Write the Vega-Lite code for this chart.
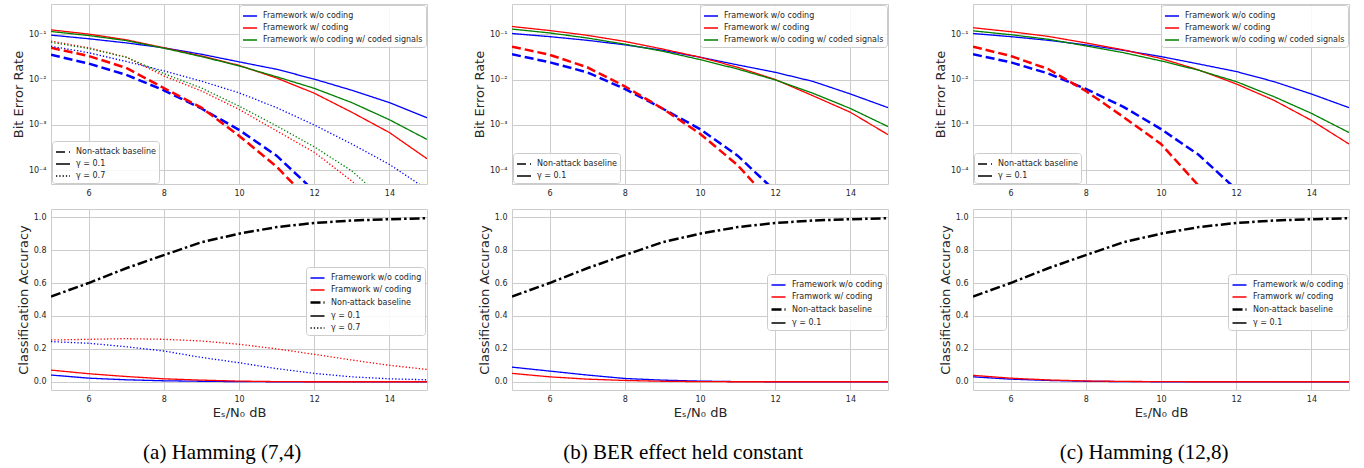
{
"$schema": "https://vega.github.io/schema/vega-lite/v6.json",
"padding": {"left": 11, "top": 3, "right": 0, "bottom": 0},
"datasets": {
"berA": [
{"snr":5,"ber":0.095,"method":"Framework w/o coding","style":"γ = 0.1"},{"snr":6,"ber":0.079,"method":"Framework w/o coding","style":"γ = 0.1"},{"snr":7,"ber":0.064,"method":"Framework w/o coding","style":"γ = 0.1"},{"snr":8,"ber":0.05,"method":"Framework w/o coding","style":"γ = 0.1"},{"snr":9,"ber":0.036,"method":"Framework w/o coding","style":"γ = 0.1"},{"snr":10,"ber":0.0245,"method":"Framework w/o coding","style":"γ = 0.1"},{"snr":11,"ber":0.0168,"method":"Framework w/o coding","style":"γ = 0.1"},{"snr":12,"ber":0.0102,"method":"Framework w/o coding","style":"γ = 0.1"},{"snr":13,"ber":0.0058,"method":"Framework w/o coding","style":"γ = 0.1"},{"snr":14,"ber":0.0031,"method":"Framework w/o coding","style":"γ = 0.1"},{"snr":15,"ber":0.00144,"method":"Framework w/o coding","style":"γ = 0.1"},
{"snr":5,"ber":0.124,"method":"Framework w/ coding","style":"γ = 0.1"},{"snr":6,"ber":0.1,"method":"Framework w/ coding","style":"γ = 0.1"},{"snr":7,"ber":0.075,"method":"Framework w/ coding","style":"γ = 0.1"},{"snr":8,"ber":0.05,"method":"Framework w/ coding","style":"γ = 0.1"},{"snr":9,"ber":0.033,"method":"Framework w/ coding","style":"γ = 0.1"},{"snr":10,"ber":0.0205,"method":"Framework w/ coding","style":"γ = 0.1"},{"snr":11,"ber":0.0108,"method":"Framework w/ coding","style":"γ = 0.1"},{"snr":12,"ber":0.005,"method":"Framework w/ coding","style":"γ = 0.1"},{"snr":13,"ber":0.0019,"method":"Framework w/ coding","style":"γ = 0.1"},{"snr":14,"ber":0.00068,"method":"Framework w/ coding","style":"γ = 0.1"},{"snr":15,"ber":0.00018,"method":"Framework w/ coding","style":"γ = 0.1"},
{"snr":5,"ber":0.114,"method":"Framework w/o coding w/ coded signals","style":"γ = 0.1"},{"snr":6,"ber":0.093,"method":"Framework w/o coding w/ coded signals","style":"γ = 0.1"},{"snr":7,"ber":0.072,"method":"Framework w/o coding w/ coded signals","style":"γ = 0.1"},{"snr":8,"ber":0.049,"method":"Framework w/o coding w/ coded signals","style":"γ = 0.1"},{"snr":9,"ber":0.032,"method":"Framework w/o coding w/ coded signals","style":"γ = 0.1"},{"snr":10,"ber":0.02,"method":"Framework w/o coding w/ coded signals","style":"γ = 0.1"},{"snr":11,"ber":0.0115,"method":"Framework w/o coding w/ coded signals","style":"γ = 0.1"},{"snr":12,"ber":0.0064,"method":"Framework w/o coding w/ coded signals","style":"γ = 0.1"},{"snr":13,"ber":0.0031,"method":"Framework w/o coding w/ coded signals","style":"γ = 0.1"},{"snr":14,"ber":0.0013,"method":"Framework w/o coding w/ coded signals","style":"γ = 0.1"},{"snr":15,"ber":0.00048,"method":"Framework w/o coding w/ coded signals","style":"γ = 0.1"},
{"snr":5,"ber":0.054,"method":"Framework w/o coding","style":"γ = 0.7"},{"snr":6,"ber":0.039,"method":"Framework w/o coding","style":"γ = 0.7"},{"snr":7,"ber":0.025,"method":"Framework w/o coding","style":"γ = 0.7"},{"snr":8,"ber":0.0155,"method":"Framework w/o coding","style":"γ = 0.7"},{"snr":9,"ber":0.0092,"method":"Framework w/o coding","style":"γ = 0.7"},{"snr":10,"ber":0.0051,"method":"Framework w/o coding","style":"γ = 0.7"},{"snr":11,"ber":0.0024,"method":"Framework w/o coding","style":"γ = 0.7"},{"snr":12,"ber":0.001,"method":"Framework w/o coding","style":"γ = 0.7"},{"snr":13,"ber":0.00038,"method":"Framework w/o coding","style":"γ = 0.7"},{"snr":14,"ber":0.000135,"method":"Framework w/o coding","style":"γ = 0.7"},{"snr":15,"ber":0.000038,"method":"Framework w/o coding","style":"γ = 0.7"},
{"snr":5,"ber":0.07,"method":"Framework w/ coding","style":"γ = 0.7"},{"snr":6,"ber":0.05,"method":"Framework w/ coding","style":"γ = 0.7"},{"snr":7,"ber":0.031,"method":"Framework w/ coding","style":"γ = 0.7"},{"snr":8,"ber":0.012,"method":"Framework w/ coding","style":"γ = 0.7"},{"snr":9,"ber":0.0056,"method":"Framework w/ coding","style":"γ = 0.7"},{"snr":10,"ber":0.0022,"method":"Framework w/ coding","style":"γ = 0.7"},{"snr":11,"ber":0.00074,"method":"Framework w/ coding","style":"γ = 0.7"},{"snr":12,"ber":0.00025,"method":"Framework w/ coding","style":"γ = 0.7"},{"snr":13,"ber":0.000058,"method":"Framework w/ coding","style":"γ = 0.7"},{"snr":14,"ber":0.000012,"method":"Framework w/ coding","style":"γ = 0.7"},
{"snr":5,"ber":0.066,"method":"Framework w/o coding w/ coded signals","style":"γ = 0.7"},{"snr":6,"ber":0.048,"method":"Framework w/o coding w/ coded signals","style":"γ = 0.7"},{"snr":7,"ber":0.031,"method":"Framework w/o coding w/ coded signals","style":"γ = 0.7"},{"snr":8,"ber":0.0135,"method":"Framework w/o coding w/ coded signals","style":"γ = 0.7"},{"snr":9,"ber":0.0065,"method":"Framework w/o coding w/ coded signals","style":"γ = 0.7"},{"snr":10,"ber":0.0026,"method":"Framework w/o coding w/ coded signals","style":"γ = 0.7"},{"snr":11,"ber":0.00095,"method":"Framework w/o coding w/ coded signals","style":"γ = 0.7"},{"snr":12,"ber":0.00033,"method":"Framework w/o coding w/ coded signals","style":"γ = 0.7"},{"snr":13,"ber":0.000097,"method":"Framework w/o coding w/ coded signals","style":"γ = 0.7"},{"snr":14,"ber":0.000018,"method":"Framework w/o coding w/ coded signals","style":"γ = 0.7"},
{"snr":5,"ber":0.035,"method":"Framework w/o coding","style":"Non-attack baseline"},{"snr":6,"ber":0.0225,"method":"Framework w/o coding","style":"Non-attack baseline"},{"snr":7,"ber":0.0127,"method":"Framework w/o coding","style":"Non-attack baseline"},{"snr":8,"ber":0.0058,"method":"Framework w/o coding","style":"Non-attack baseline"},{"snr":9,"ber":0.0023,"method":"Framework w/o coding","style":"Non-attack baseline"},{"snr":10,"ber":0.00078,"method":"Framework w/o coding","style":"Non-attack baseline"},{"snr":11,"ber":0.00021,"method":"Framework w/o coding","style":"Non-attack baseline"},{"snr":12,"ber":0.000035,"method":"Framework w/o coding","style":"Non-attack baseline"},
{"snr":5,"ber":0.05,"method":"Framework w/ coding","style":"Non-attack baseline"},{"snr":6,"ber":0.033,"method":"Framework w/ coding","style":"Non-attack baseline"},{"snr":7,"ber":0.018,"method":"Framework w/ coding","style":"Non-attack baseline"},{"snr":8,"ber":0.0065,"method":"Framework w/ coding","style":"Non-attack baseline"},{"snr":9,"ber":0.0024,"method":"Framework w/ coding","style":"Non-attack baseline"},{"snr":10,"ber":0.00058,"method":"Framework w/ coding","style":"Non-attack baseline"},{"snr":11,"ber":0.00012,"method":"Framework w/ coding","style":"Non-attack baseline"},{"snr":12,"ber":0.000017,"method":"Framework w/ coding","style":"Non-attack baseline"}
],
"berB": [
{"snr":5,"ber":0.103,"method":"Framework w/o coding","style":"γ = 0.1"},{"snr":6,"ber":0.088,"method":"Framework w/o coding","style":"γ = 0.1"},{"snr":7,"ber":0.073,"method":"Framework w/o coding","style":"γ = 0.1"},{"snr":8,"ber":0.058,"method":"Framework w/o coding","style":"γ = 0.1"},{"snr":9,"ber":0.044,"method":"Framework w/o coding","style":"γ = 0.1"},{"snr":10,"ber":0.031,"method":"Framework w/o coding","style":"γ = 0.1"},{"snr":11,"ber":0.021,"method":"Framework w/o coding","style":"γ = 0.1"},{"snr":12,"ber":0.0144,"method":"Framework w/o coding","style":"γ = 0.1"},{"snr":13,"ber":0.0091,"method":"Framework w/o coding","style":"γ = 0.1"},{"snr":14,"ber":0.0048,"method":"Framework w/o coding","style":"γ = 0.1"},{"snr":15,"ber":0.0024,"method":"Framework w/o coding","style":"γ = 0.1"},
{"snr":5,"ber":0.147,"method":"Framework w/ coding","style":"γ = 0.1"},{"snr":6,"ber":0.12,"method":"Framework w/ coding","style":"γ = 0.1"},{"snr":7,"ber":0.094,"method":"Framework w/ coding","style":"γ = 0.1"},{"snr":8,"ber":0.069,"method":"Framework w/ coding","style":"γ = 0.1"},{"snr":9,"ber":0.047,"method":"Framework w/ coding","style":"γ = 0.1"},{"snr":10,"ber":0.031,"method":"Framework w/ coding","style":"γ = 0.1"},{"snr":11,"ber":0.0186,"method":"Framework w/ coding","style":"γ = 0.1"},{"snr":12,"ber":0.01,"method":"Framework w/ coding","style":"γ = 0.1"},{"snr":13,"ber":0.0044,"method":"Framework w/ coding","style":"γ = 0.1"},{"snr":14,"ber":0.0019,"method":"Framework w/ coding","style":"γ = 0.1"},{"snr":15,"ber":0.00061,"method":"Framework w/ coding","style":"γ = 0.1"},
{"snr":5,"ber":0.129,"method":"Framework w/o coding w/ coded signals","style":"γ = 0.1"},{"snr":6,"ber":0.106,"method":"Framework w/o coding w/ coded signals","style":"γ = 0.1"},{"snr":7,"ber":0.082,"method":"Framework w/o coding w/ coded signals","style":"γ = 0.1"},{"snr":8,"ber":0.06,"method":"Framework w/o coding w/ coded signals","style":"γ = 0.1"},{"snr":9,"ber":0.042,"method":"Framework w/o coding w/ coded signals","style":"γ = 0.1"},{"snr":10,"ber":0.0275,"method":"Framework w/o coding w/ coded signals","style":"γ = 0.1"},{"snr":11,"ber":0.017,"method":"Framework w/o coding w/ coded signals","style":"γ = 0.1"},{"snr":12,"ber":0.0098,"method":"Framework w/o coding w/ coded signals","style":"γ = 0.1"},{"snr":13,"ber":0.005,"method":"Framework w/o coding w/ coded signals","style":"γ = 0.1"},{"snr":14,"ber":0.0023,"method":"Framework w/o coding w/ coded signals","style":"γ = 0.1"},{"snr":15,"ber":0.00092,"method":"Framework w/o coding w/ coded signals","style":"γ = 0.1"},
{"snr":5,"ber":0.036,"method":"Framework w/o coding","style":"Non-attack baseline"},{"snr":6,"ber":0.024,"method":"Framework w/o coding","style":"Non-attack baseline"},{"snr":7,"ber":0.0144,"method":"Framework w/o coding","style":"Non-attack baseline"},{"snr":8,"ber":0.0062,"method":"Framework w/o coding","style":"Non-attack baseline"},{"snr":9,"ber":0.0023,"method":"Framework w/o coding","style":"Non-attack baseline"},{"snr":10,"ber":0.00081,"method":"Framework w/o coding","style":"Non-attack baseline"},{"snr":11,"ber":0.00021,"method":"Framework w/o coding","style":"Non-attack baseline"},{"snr":12,"ber":0.000035,"method":"Framework w/o coding","style":"Non-attack baseline"},
{"snr":5,"ber":0.053,"method":"Framework w/ coding","style":"Non-attack baseline"},{"snr":6,"ber":0.035,"method":"Framework w/ coding","style":"Non-attack baseline"},{"snr":7,"ber":0.0186,"method":"Framework w/ coding","style":"Non-attack baseline"},{"snr":8,"ber":0.0071,"method":"Framework w/ coding","style":"Non-attack baseline"},{"snr":9,"ber":0.0023,"method":"Framework w/ coding","style":"Non-attack baseline"},{"snr":10,"ber":0.00064,"method":"Framework w/ coding","style":"Non-attack baseline"},{"snr":11,"ber":0.00013,"method":"Framework w/ coding","style":"Non-attack baseline"},{"snr":12,"ber":0.000016,"method":"Framework w/ coding","style":"Non-attack baseline"}
],
"berC": [
{"snr":5,"ber":0.103,"method":"Framework w/o coding","style":"γ = 0.1"},{"snr":6,"ber":0.088,"method":"Framework w/o coding","style":"γ = 0.1"},{"snr":7,"ber":0.073,"method":"Framework w/o coding","style":"γ = 0.1"},{"snr":8,"ber":0.058,"method":"Framework w/o coding","style":"γ = 0.1"},{"snr":9,"ber":0.044,"method":"Framework w/o coding","style":"γ = 0.1"},{"snr":10,"ber":0.032,"method":"Framework w/o coding","style":"γ = 0.1"},{"snr":11,"ber":0.022,"method":"Framework w/o coding","style":"γ = 0.1"},{"snr":12,"ber":0.015,"method":"Framework w/o coding","style":"γ = 0.1"},{"snr":13,"ber":0.009,"method":"Framework w/o coding","style":"γ = 0.1"},{"snr":14,"ber":0.0048,"method":"Framework w/o coding","style":"γ = 0.1"},{"snr":15,"ber":0.0024,"method":"Framework w/o coding","style":"γ = 0.1"},
{"snr":5,"ber":0.138,"method":"Framework w/ coding","style":"γ = 0.1"},{"snr":6,"ber":0.113,"method":"Framework w/ coding","style":"γ = 0.1"},{"snr":7,"ber":0.089,"method":"Framework w/ coding","style":"γ = 0.1"},{"snr":8,"ber":0.064,"method":"Framework w/ coding","style":"γ = 0.1"},{"snr":9,"ber":0.045,"method":"Framework w/ coding","style":"γ = 0.1"},{"snr":10,"ber":0.029,"method":"Framework w/ coding","style":"γ = 0.1"},{"snr":11,"ber":0.0163,"method":"Framework w/ coding","style":"γ = 0.1"},{"snr":12,"ber":0.008,"method":"Framework w/ coding","style":"γ = 0.1"},{"snr":13,"ber":0.0035,"method":"Framework w/ coding","style":"γ = 0.1"},{"snr":14,"ber":0.00126,"method":"Framework w/ coding","style":"γ = 0.1"},{"snr":15,"ber":0.00038,"method":"Framework w/ coding","style":"γ = 0.1"},
{"snr":5,"ber":0.118,"method":"Framework w/o coding w/ coded signals","style":"γ = 0.1"},{"snr":6,"ber":0.097,"method":"Framework w/o coding w/ coded signals","style":"γ = 0.1"},{"snr":7,"ber":0.077,"method":"Framework w/o coding w/ coded signals","style":"γ = 0.1"},{"snr":8,"ber":0.055,"method":"Framework w/o coding w/ coded signals","style":"γ = 0.1"},{"snr":9,"ber":0.039,"method":"Framework w/o coding w/ coded signals","style":"γ = 0.1"},{"snr":10,"ber":0.0257,"method":"Framework w/o coding w/ coded signals","style":"γ = 0.1"},{"snr":11,"ber":0.016,"method":"Framework w/o coding w/ coded signals","style":"γ = 0.1"},{"snr":12,"ber":0.009,"method":"Framework w/o coding w/ coded signals","style":"γ = 0.1"},{"snr":13,"ber":0.0042,"method":"Framework w/o coding w/ coded signals","style":"γ = 0.1"},{"snr":14,"ber":0.0018,"method":"Framework w/o coding w/ coded signals","style":"γ = 0.1"},{"snr":15,"ber":0.00068,"method":"Framework w/o coding w/ coded signals","style":"γ = 0.1"},
{"snr":5,"ber":0.036,"method":"Framework w/o coding","style":"Non-attack baseline"},{"snr":6,"ber":0.024,"method":"Framework w/o coding","style":"Non-attack baseline"},{"snr":7,"ber":0.0136,"method":"Framework w/o coding","style":"Non-attack baseline"},{"snr":8,"ber":0.0062,"method":"Framework w/o coding","style":"Non-attack baseline"},{"snr":9,"ber":0.0025,"method":"Framework w/o coding","style":"Non-attack baseline"},{"snr":10,"ber":0.00081,"method":"Framework w/o coding","style":"Non-attack baseline"},{"snr":11,"ber":0.00022,"method":"Framework w/o coding","style":"Non-attack baseline"},{"snr":12,"ber":0.000038,"method":"Framework w/o coding","style":"Non-attack baseline"},
{"snr":5,"ber":0.053,"method":"Framework w/ coding","style":"Non-attack baseline"},{"snr":6,"ber":0.033,"method":"Framework w/ coding","style":"Non-attack baseline"},{"snr":7,"ber":0.017,"method":"Framework w/ coding","style":"Non-attack baseline"},{"snr":8,"ber":0.0056,"method":"Framework w/ coding","style":"Non-attack baseline"},{"snr":9,"ber":0.0015,"method":"Framework w/ coding","style":"Non-attack baseline"},{"snr":10,"ber":0.00038,"method":"Framework w/ coding","style":"Non-attack baseline"},{"snr":11,"ber":0.000046,"method":"Framework w/ coding","style":"Non-attack baseline"}
],
"accA": [
{"snr":5,"acc":0.518,"series":"Non-attack baseline"},{"snr":6,"acc":0.6,"series":"Non-attack baseline"},{"snr":7,"acc":0.69,"series":"Non-attack baseline"},{"snr":8,"acc":0.77,"series":"Non-attack baseline"},{"snr":9,"acc":0.848,"series":"Non-attack baseline"},{"snr":10,"acc":0.9,"series":"Non-attack baseline"},{"snr":11,"acc":0.94,"series":"Non-attack baseline"},{"snr":12,"acc":0.965,"series":"Non-attack baseline"},{"snr":13,"acc":0.98,"series":"Non-attack baseline"},{"snr":14,"acc":0.988,"series":"Non-attack baseline"},{"snr":15,"acc":0.994,"series":"Non-attack baseline"},
{"snr":5,"acc":0.244,"series":"Framework w/o coding, γ = 0.7"},{"snr":6,"acc":0.234,"series":"Framework w/o coding, γ = 0.7"},{"snr":7,"acc":0.213,"series":"Framework w/o coding, γ = 0.7"},{"snr":8,"acc":0.187,"series":"Framework w/o coding, γ = 0.7"},{"snr":9,"acc":0.148,"series":"Framework w/o coding, γ = 0.7"},{"snr":10,"acc":0.116,"series":"Framework w/o coding, γ = 0.7"},{"snr":11,"acc":0.08,"series":"Framework w/o coding, γ = 0.7"},{"snr":12,"acc":0.051,"series":"Framework w/o coding, γ = 0.7"},{"snr":13,"acc":0.03,"series":"Framework w/o coding, γ = 0.7"},{"snr":14,"acc":0.018,"series":"Framework w/o coding, γ = 0.7"},{"snr":15,"acc":0.012,"series":"Framework w/o coding, γ = 0.7"},
{"snr":5,"acc":0.254,"series":"Framwork w/ coding, γ = 0.7"},{"snr":6,"acc":0.258,"series":"Framwork w/ coding, γ = 0.7"},{"snr":7,"acc":0.262,"series":"Framwork w/ coding, γ = 0.7"},{"snr":8,"acc":0.258,"series":"Framwork w/ coding, γ = 0.7"},{"snr":9,"acc":0.248,"series":"Framwork w/ coding, γ = 0.7"},{"snr":10,"acc":0.228,"series":"Framwork w/ coding, γ = 0.7"},{"snr":11,"acc":0.2,"series":"Framwork w/ coding, γ = 0.7"},{"snr":12,"acc":0.167,"series":"Framwork w/ coding, γ = 0.7"},{"snr":13,"acc":0.132,"series":"Framwork w/ coding, γ = 0.7"},{"snr":14,"acc":0.1,"series":"Framwork w/ coding, γ = 0.7"},{"snr":15,"acc":0.075,"series":"Framwork w/ coding, γ = 0.7"},
{"snr":5,"acc":0.041,"series":"Framework w/o coding"},{"snr":6,"acc":0.022,"series":"Framework w/o coding"},{"snr":7,"acc":0.012,"series":"Framework w/o coding"},{"snr":8,"acc":0.006,"series":"Framework w/o coding"},{"snr":9,"acc":0.003,"series":"Framework w/o coding"},{"snr":10,"acc":0.001,"series":"Framework w/o coding"},{"snr":11,"acc":0,"series":"Framework w/o coding"},{"snr":12,"acc":0,"series":"Framework w/o coding"},{"snr":13,"acc":0,"series":"Framework w/o coding"},{"snr":14,"acc":0,"series":"Framework w/o coding"},{"snr":15,"acc":0,"series":"Framework w/o coding"},
{"snr":5,"acc":0.071,"series":"Framwork w/ coding"},{"snr":6,"acc":0.049,"series":"Framwork w/ coding"},{"snr":7,"acc":0.032,"series":"Framwork w/ coding"},{"snr":8,"acc":0.018,"series":"Framwork w/ coding"},{"snr":9,"acc":0.01,"series":"Framwork w/ coding"},{"snr":10,"acc":0.004,"series":"Framwork w/ coding"},{"snr":11,"acc":0.001,"series":"Framwork w/ coding"},{"snr":12,"acc":0,"series":"Framwork w/ coding"},{"snr":13,"acc":0,"series":"Framwork w/ coding"},{"snr":14,"acc":0,"series":"Framwork w/ coding"},{"snr":15,"acc":0,"series":"Framwork w/ coding"}
],
"accB": [
{"snr":5,"acc":0.518,"series":"Non-attack baseline"},{"snr":6,"acc":0.6,"series":"Non-attack baseline"},{"snr":7,"acc":0.69,"series":"Non-attack baseline"},{"snr":8,"acc":0.77,"series":"Non-attack baseline"},{"snr":9,"acc":0.848,"series":"Non-attack baseline"},{"snr":10,"acc":0.9,"series":"Non-attack baseline"},{"snr":11,"acc":0.94,"series":"Non-attack baseline"},{"snr":12,"acc":0.965,"series":"Non-attack baseline"},{"snr":13,"acc":0.98,"series":"Non-attack baseline"},{"snr":14,"acc":0.988,"series":"Non-attack baseline"},{"snr":15,"acc":0.994,"series":"Non-attack baseline"},
{"snr":5,"acc":0.089,"series":"Framework w/o coding"},{"snr":6,"acc":0.065,"series":"Framework w/o coding"},{"snr":7,"acc":0.041,"series":"Framework w/o coding"},{"snr":8,"acc":0.02,"series":"Framework w/o coding"},{"snr":9,"acc":0.01,"series":"Framework w/o coding"},{"snr":10,"acc":0.004,"series":"Framework w/o coding"},{"snr":11,"acc":0.001,"series":"Framework w/o coding"},{"snr":12,"acc":0,"series":"Framework w/o coding"},{"snr":13,"acc":0,"series":"Framework w/o coding"},{"snr":14,"acc":0,"series":"Framework w/o coding"},{"snr":15,"acc":0,"series":"Framework w/o coding"},
{"snr":5,"acc":0.051,"series":"Framwork w/ coding"},{"snr":6,"acc":0.03,"series":"Framwork w/ coding"},{"snr":7,"acc":0.016,"series":"Framwork w/ coding"},{"snr":8,"acc":0.008,"series":"Framwork w/ coding"},{"snr":9,"acc":0.003,"series":"Framwork w/ coding"},{"snr":10,"acc":0.001,"series":"Framwork w/ coding"},{"snr":11,"acc":0,"series":"Framwork w/ coding"},{"snr":12,"acc":0,"series":"Framwork w/ coding"},{"snr":13,"acc":0,"series":"Framwork w/ coding"},{"snr":14,"acc":0,"series":"Framwork w/ coding"},{"snr":15,"acc":0,"series":"Framwork w/ coding"}
],
"accC": [
{"snr":5,"acc":0.518,"series":"Non-attack baseline"},{"snr":6,"acc":0.6,"series":"Non-attack baseline"},{"snr":7,"acc":0.69,"series":"Non-attack baseline"},{"snr":8,"acc":0.77,"series":"Non-attack baseline"},{"snr":9,"acc":0.848,"series":"Non-attack baseline"},{"snr":10,"acc":0.9,"series":"Non-attack baseline"},{"snr":11,"acc":0.94,"series":"Non-attack baseline"},{"snr":12,"acc":0.965,"series":"Non-attack baseline"},{"snr":13,"acc":0.98,"series":"Non-attack baseline"},{"snr":14,"acc":0.988,"series":"Non-attack baseline"},{"snr":15,"acc":0.994,"series":"Non-attack baseline"},
{"snr":5,"acc":0.03,"series":"Framework w/o coding"},{"snr":6,"acc":0.016,"series":"Framework w/o coding"},{"snr":7,"acc":0.008,"series":"Framework w/o coding"},{"snr":8,"acc":0.003,"series":"Framework w/o coding"},{"snr":9,"acc":0.001,"series":"Framework w/o coding"},{"snr":10,"acc":0,"series":"Framework w/o coding"},{"snr":11,"acc":0,"series":"Framework w/o coding"},{"snr":12,"acc":0,"series":"Framework w/o coding"},{"snr":13,"acc":0,"series":"Framework w/o coding"},{"snr":14,"acc":0,"series":"Framework w/o coding"},{"snr":15,"acc":0,"series":"Framework w/o coding"},
{"snr":5,"acc":0.039,"series":"Framwork w/ coding"},{"snr":6,"acc":0.022,"series":"Framwork w/ coding"},{"snr":7,"acc":0.011,"series":"Framwork w/ coding"},{"snr":8,"acc":0.005,"series":"Framwork w/ coding"},{"snr":9,"acc":0.002,"series":"Framwork w/ coding"},{"snr":10,"acc":0.001,"series":"Framwork w/ coding"},{"snr":11,"acc":0,"series":"Framwork w/ coding"},{"snr":12,"acc":0,"series":"Framwork w/ coding"},{"snr":13,"acc":0,"series":"Framwork w/ coding"},{"snr":14,"acc":0,"series":"Framwork w/ coding"},{"snr":15,"acc":0,"series":"Framwork w/ coding"}
]
},
"concat": [
{
"width": 376, "height": 180,
"data": {"name": "berA"},
"encoding": {
"x": {"field": "snr", "type": "quantitative", "scale": {"domain": [5, 15], "nice": false, "zero": false}, "axis": {"title": null, "values": [6, 8, 10, 12, 14]}},
"y": {"field": "ber", "type": "quantitative", "scale": {"type": "log", "domain": [0.00005, 0.46], "nice": false}, "axis": {"title": "Bit Error Rate", "values": [0.0001, 0.001, 0.01, 0.1], "labelExpr": "datum.value < 0.0005 ? '10⁻⁴' : datum.value < 0.005 ? '10⁻³' : datum.value < 0.05 ? '10⁻²' : '10⁻¹'"}},
"color": {"field": "method", "type": "nominal", "scale": {"domain": ["Framework w/o coding", "Framework w/ coding", "Framework w/o coding w/ coded signals"], "range": ["#0000ff", "#ff0000", "#008000"]}, "legend": {"orient": "top-right", "title": null, "offset": 1, "symbolStrokeWidth": 1.5}},
"strokeDash": {"field": "style", "type": "nominal", "scale": {"domain": ["Non-attack baseline", "γ = 0.1", "γ = 0.7"], "range": [[9, 4], [1, 0], [1.3, 2]]}, "legend": {"orient": "bottom-left", "title": null, "offset": 1, "symbolStrokeColor": "#000000", "symbolStrokeWidth": 1.5}}
},
"layer": [
{"transform": [{"filter": "datum.style === 'Non-attack baseline'"}], "mark": {"type": "line", "clip": true, "strokeWidth": 2.5}},
{"transform": [{"filter": "datum.style !== 'Non-attack baseline'"}], "mark": {"type": "line", "clip": true, "strokeWidth": 1.3}}
]
},
{
"width": 376, "height": 180,
"data": {"name": "berB"},
"encoding": {
"x": {"field": "snr", "type": "quantitative", "scale": {"domain": [5, 15], "nice": false, "zero": false}, "axis": {"title": null, "values": [6, 8, 10, 12, 14]}},
"y": {"field": "ber", "type": "quantitative", "scale": {"type": "log", "domain": [0.00005, 0.46], "nice": false}, "axis": {"title": "Bit Error Rate", "values": [0.0001, 0.001, 0.01, 0.1], "labelExpr": "datum.value < 0.0005 ? '10⁻⁴' : datum.value < 0.005 ? '10⁻³' : datum.value < 0.05 ? '10⁻²' : '10⁻¹'"}},
"color": {"field": "method", "type": "nominal", "scale": {"domain": ["Framework w/o coding", "Framework w/ coding", "Framework w/o coding w/ coded signals"], "range": ["#0000ff", "#ff0000", "#008000"]}, "legend": {"orient": "top-right", "title": null, "offset": 1, "symbolStrokeWidth": 1.5}},
"strokeDash": {"field": "style", "type": "nominal", "scale": {"domain": ["Non-attack baseline", "γ = 0.1"], "range": [[9, 4], [1, 0]]}, "legend": {"orient": "bottom-left", "title": null, "offset": 1, "symbolStrokeColor": "#000000", "symbolStrokeWidth": 1.5}}
},
"layer": [
{"transform": [{"filter": "datum.style === 'Non-attack baseline'"}], "mark": {"type": "line", "clip": true, "strokeWidth": 2.5}},
{"transform": [{"filter": "datum.style !== 'Non-attack baseline'"}], "mark": {"type": "line", "clip": true, "strokeWidth": 1.3}}
]
},
{
"width": 376, "height": 180,
"data": {"name": "berC"},
"encoding": {
"x": {"field": "snr", "type": "quantitative", "scale": {"domain": [5, 15], "nice": false, "zero": false}, "axis": {"title": null, "values": [6, 8, 10, 12, 14]}},
"y": {"field": "ber", "type": "quantitative", "scale": {"type": "log", "domain": [0.00005, 0.46], "nice": false}, "axis": {"title": "Bit Error Rate", "values": [0.0001, 0.001, 0.01, 0.1], "labelExpr": "datum.value < 0.0005 ? '10⁻⁴' : datum.value < 0.005 ? '10⁻³' : datum.value < 0.05 ? '10⁻²' : '10⁻¹'"}},
"color": {"field": "method", "type": "nominal", "scale": {"domain": ["Framework w/o coding", "Framework w/ coding", "Framework w/o coding w/ coded signals"], "range": ["#0000ff", "#ff0000", "#008000"]}, "legend": {"orient": "top-right", "title": null, "offset": 1, "symbolStrokeWidth": 1.5}},
"strokeDash": {"field": "style", "type": "nominal", "scale": {"domain": ["Non-attack baseline", "γ = 0.1"], "range": [[9, 4], [1, 0]]}, "legend": {"orient": "bottom-left", "title": null, "offset": 1, "symbolStrokeColor": "#000000", "symbolStrokeWidth": 1.5}}
},
"layer": [
{"transform": [{"filter": "datum.style === 'Non-attack baseline'"}], "mark": {"type": "line", "clip": true, "strokeWidth": 2.5}},
{"transform": [{"filter": "datum.style !== 'Non-attack baseline'"}], "mark": {"type": "line", "clip": true, "strokeWidth": 1.3}}
]
},
{
"width": 376, "height": 181,
"data": {"name": "accA"},
"title": {"text": "(a) Hamming (7,4)", "orient": "bottom", "anchor": "middle", "frame": "bounds", "offset": 23},
"mark": {"type": "line", "clip": true},
"encoding": {
"x": {"field": "snr", "type": "quantitative", "scale": {"domain": [5, 15], "nice": false, "zero": false}, "axis": {"title": "Eₛ/N₀ dB", "values": [6, 8, 10, 12, 14]}},
"y": {"field": "acc", "type": "quantitative", "scale": {"domain": [-0.05, 1.05], "nice": false, "zero": false}, "axis": {"title": "Classification Accuracy", "values": [0, 0.2, 0.4, 0.6, 0.8, 1.0], "format": ".1f"}},
"color": {"field": "series", "type": "nominal", "scale": {"domain": ["Framework w/o coding", "Framwork w/ coding", "Non-attack baseline", "γ = 0.1", "γ = 0.7", "Framework w/o coding, γ = 0.7", "Framwork w/ coding, γ = 0.7"], "range": ["#0000ff", "#ff0000", "#000000", "#000000", "#000000", "#0000ff", "#ff0000"]}, "legend": {"orient": "none", "legendX": 255, "legendY": 58, "title": null, "values": ["Framework w/o coding", "Framwork w/ coding", "Non-attack baseline", "γ = 0.1", "γ = 0.7"]}},
"strokeDash": {"field": "series", "type": "nominal", "scale": {"domain": ["Framework w/o coding", "Framwork w/ coding", "Non-attack baseline", "γ = 0.1", "γ = 0.7", "Framework w/o coding, γ = 0.7", "Framwork w/ coding, γ = 0.7"], "range": [[1, 0], [1, 0], [10, 3, 2.5, 3], [1, 0], [1.3, 2], [1.3, 2], [1.3, 2]]}, "legend": {"orient": "none", "legendX": 255, "legendY": 58, "title": null, "values": ["Framework w/o coding", "Framwork w/ coding", "Non-attack baseline", "γ = 0.1", "γ = 0.7"]}},
"strokeWidth": {"field": "series", "type": "nominal", "scale": {"type": "ordinal", "domain": ["Framework w/o coding", "Framwork w/ coding", "Non-attack baseline", "γ = 0.1", "γ = 0.7", "Framework w/o coding, γ = 0.7", "Framwork w/ coding, γ = 0.7"], "range": [1.3, 1.3, 2.5, 1.3, 1.3, 1.3, 1.3]}, "legend": {"orient": "none", "legendX": 255, "legendY": 58, "title": null, "values": ["Framework w/o coding", "Framwork w/ coding", "Non-attack baseline", "γ = 0.1", "γ = 0.7"]}}
}
},
{
"width": 376, "height": 181,
"data": {"name": "accB"},
"title": {"text": "(b) BER effect held constant", "orient": "bottom", "anchor": "middle", "frame": "bounds", "offset": 23},
"mark": {"type": "line", "clip": true},
"encoding": {
"x": {"field": "snr", "type": "quantitative", "scale": {"domain": [5, 15], "nice": false, "zero": false}, "axis": {"title": "Eₛ/N₀ dB", "values": [6, 8, 10, 12, 14]}},
"y": {"field": "acc", "type": "quantitative", "scale": {"domain": [-0.05, 1.05], "nice": false, "zero": false}, "axis": {"title": "Classification Accuracy", "values": [0, 0.2, 0.4, 0.6, 0.8, 1.0], "format": ".1f"}},
"color": {"field": "series", "type": "nominal", "scale": {"domain": ["Framework w/o coding", "Framwork w/ coding", "Non-attack baseline", "γ = 0.1"], "range": ["#0000ff", "#ff0000", "#000000", "#000000"]}, "legend": {"orient": "none", "legendX": 255, "legendY": 65, "title": null}},
"strokeDash": {"field": "series", "type": "nominal", "scale": {"domain": ["Framework w/o coding", "Framwork w/ coding", "Non-attack baseline", "γ = 0.1"], "range": [[1, 0], [1, 0], [10, 3, 2.5, 3], [1, 0]]}, "legend": {"orient": "none", "legendX": 255, "legendY": 65, "title": null}},
"strokeWidth": {"field": "series", "type": "nominal", "scale": {"type": "ordinal", "domain": ["Framework w/o coding", "Framwork w/ coding", "Non-attack baseline", "γ = 0.1"], "range": [1.3, 1.3, 2.5, 1.3]}, "legend": {"orient": "none", "legendX": 255, "legendY": 65, "title": null}}
}
},
{
"width": 376, "height": 181,
"data": {"name": "accC"},
"title": {"text": "(c) Hamming (12,8)", "orient": "bottom", "anchor": "middle", "frame": "bounds", "offset": 23},
"mark": {"type": "line", "clip": true},
"encoding": {
"x": {"field": "snr", "type": "quantitative", "scale": {"domain": [5, 15], "nice": false, "zero": false}, "axis": {"title": "Eₛ/N₀ dB", "values": [6, 8, 10, 12, 14]}},
"y": {"field": "acc", "type": "quantitative", "scale": {"domain": [-0.05, 1.05], "nice": false, "zero": false}, "axis": {"title": "Classification Accuracy", "values": [0, 0.2, 0.4, 0.6, 0.8, 1.0], "format": ".1f"}},
"color": {"field": "series", "type": "nominal", "scale": {"domain": ["Framework w/o coding", "Framwork w/ coding", "Non-attack baseline", "γ = 0.1"], "range": ["#0000ff", "#ff0000", "#000000", "#000000"]}, "legend": {"orient": "none", "legendX": 255, "legendY": 65, "title": null}},
"strokeDash": {"field": "series", "type": "nominal", "scale": {"domain": ["Framework w/o coding", "Framwork w/ coding", "Non-attack baseline", "γ = 0.1"], "range": [[1, 0], [1, 0], [10, 3, 2.5, 3], [1, 0]]}, "legend": {"orient": "none", "legendX": 255, "legendY": 65, "title": null}},
"strokeWidth": {"field": "series", "type": "nominal", "scale": {"type": "ordinal", "domain": ["Framework w/o coding", "Framwork w/ coding", "Non-attack baseline", "γ = 0.1"], "range": [1.3, 1.3, 2.5, 1.3]}, "legend": {"orient": "none", "legendX": 255, "legendY": 65, "title": null}}
}
}
],
"columns": 3,
"spacing": {"row": 25, "column": 85},
"bounds": "flush",
"resolve": {"scale": {"color": "independent", "strokeDash": "independent", "strokeWidth": "independent"}},
"config": {
"font": "DejaVu Sans",
"view": {"stroke": "#cccccc", "strokeWidth": 1},
"axis": {"domain": false, "ticks": false, "grid": true, "gridColor": "#cccccc", "gridWidth": 1, "labelFont": "DejaVu Sans", "labelFontSize": 8, "labelColor": "#262626", "labelPadding": 5, "titleFont": "DejaVu Sans", "titleFontSize": 13, "titleFontWeight": "normal", "titleColor": "#262626", "titlePadding": 3},
"legend": {"labelFont": "DejaVu Sans", "labelFontSize": 8, "labelColor": "#262626", "symbolType": "stroke", "symbolSize": 196, "symbolStrokeWidth": 1.5, "fillColor": "rgba(255,255,255,0.85)", "strokeColor": "#cccccc", "cornerRadius": 3, "padding": 3, "rowPadding": -2, "labelOffset": 5, "labelLimit": 250},
"title": {"font": "Liberation Serif", "fontSize": 21, "fontWeight": "normal", "color": "#000000"}
}
}
